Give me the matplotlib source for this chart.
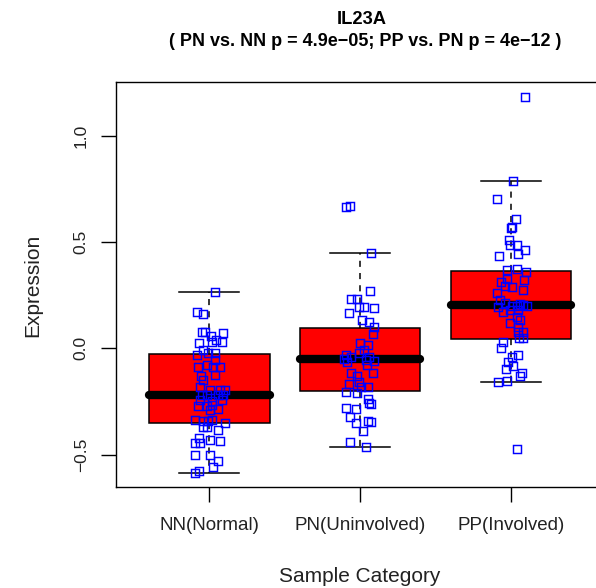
import numpy as np
import matplotlib
matplotlib.use("Agg")
import matplotlib.pyplot as plt

plt.rcParams['font.family'] = ['Liberation Sans', 'DejaVu Sans']

categories = ["NN(Normal)", "PN(Uninvolved)", "PP(Involved)"]
title_gene = "IL23A"
title_stats = "( PN vs. NN p = 4.9e\u221205; PP vs. PN p = 4e\u221212 )"

# box statistics
box_med = [-0.220, -0.052, 0.204]
box_q1 = [-0.350, -0.200, 0.042]
box_q3 = [-0.027, 0.094, 0.363]
box_lo = [-0.585, -0.462, -0.160]
box_hi = [0.266, 0.448, 0.787]

# sample values (expression) per group
nn_vals = [0.266, 0.172, 0.160, 0.078, 0.078, 0.058, 0.073, 0.039, 0.031, 0.024, 0.031,
           -0.010, -0.020, -0.020, -0.030, -0.055, -0.080, -0.090, -0.090, -0.090, -0.125,
           -0.130, -0.150, -0.180, -0.196, -0.196, -0.196, -0.220, -0.220, -0.220, -0.220,
           -0.245, -0.250, -0.245, -0.270, -0.270, -0.265, -0.285, -0.290, -0.335, -0.340,
           -0.340, -0.335, -0.350, -0.370, -0.370, -0.385, -0.420, -0.430, -0.435, -0.445,
           -0.445, -0.500, -0.500, -0.530, -0.560, -0.585, -0.575]
nn_jit = [0.038, -0.084, -0.040, -0.051, -0.029, 0.011, 0.093, 0.044, 0.082, -0.066, 0.015,
          -0.040, -0.007, 0.038, -0.084, 0.038, -0.018, 0.026, 0.071, -0.073, 0.038,
          -0.055, -0.040, -0.062, 0.004, 0.071, 0.104, -0.051, -0.018, 0.093, 0.060,
          -0.062, 0.015, 0.082, -0.073, -0.018, 0.015, 0.060, 0.004, -0.095, -0.040,
          -0.007, 0.015, 0.104, -0.040, -0.018, 0.055, -0.066, 0.004, 0.071, -0.095,
          -0.062, -0.095, 0.004, 0.060, 0.026, -0.095, -0.066]

pn_vals = [0.663, 0.670, 0.448, 0.271, 0.230, 0.230, 0.195, 0.193, 0.188, 0.165, 0.133,
           0.125, 0.100, 0.067, 0.024, 0.016, -0.008, -0.024, -0.030, -0.040, -0.050,
           -0.055, -0.060, -0.040, -0.065, -0.078, -0.118, -0.115, -0.130, -0.157, -0.170,
           -0.180, -0.180, -0.207, -0.210, -0.240, -0.260, -0.255, -0.280, -0.287, -0.325,
           -0.350, -0.340, -0.348, -0.387, -0.440, -0.462]
pn_jit = [-0.095, -0.066, 0.071, 0.064, -0.062, -0.018, -0.007, 0.026, 0.093, -0.073, 0.011,
          0.060, 0.093, 0.082, 0.000, 0.053, 0.026, -0.007, -0.095, -0.062, -0.106,
          0.038, 0.093, 0.060, -0.084, 0.044, -0.062, 0.082, -0.018, -0.007, -0.073,
          0.004, 0.053, -0.095, -0.018, 0.049, 0.071, 0.060, -0.095, -0.029, -0.066,
          -0.029, 0.049, 0.071, 0.020, -0.066, 0.042]

pp_vals = [1.180, 0.787, 0.700, 0.608, 0.572, 0.564, 0.509, 0.486, 0.462, 0.486, 0.434,
           0.443, 0.368, 0.371, 0.360, 0.324, 0.313, 0.320, 0.294, 0.287, 0.274, 0.261,
           0.227, 0.214, 0.196, 0.200, 0.210, 0.200, 0.198, 0.205, 0.171, 0.180, 0.180,
           0.149, 0.120, 0.133, 0.100, 0.078, 0.078, 0.047, 0.047, 0.028, 0.000, -0.030,
           -0.040, -0.063, -0.082, -0.096, -0.118, -0.129, -0.160, -0.154, -0.474]
pp_jit = [0.093, 0.011, -0.095, 0.031, 0.004, 0.000, -0.011, 0.038, 0.093, -0.007, -0.079,
          0.044, -0.029, 0.038, 0.099, -0.024, -0.064, 0.086, -0.040, 0.007, 0.082, -0.095,
          -0.073, -0.040, -0.084, 0.038, 0.060, 0.108, 0.004, 0.082, -0.051, -0.007, 0.049,
          0.038, -0.007, 0.060, 0.049, 0.044, 0.082, 0.053, 0.082, -0.051, -0.068, 0.044,
          0.004, -0.022, 0.015, -0.035, 0.071, 0.060, -0.088, -0.024, 0.038]

yticks = [-0.5, 0.0, 0.5, 1.0]
ytick_labels = ["\u22120.5", "0.0", "0.5", "1.0"]

W, H = 596, 588
fig = plt.figure(figsize=(W / 100, H / 100), dpi=100)
ax = fig.add_axes([115.8 / W, 101 / H, 488.7 / W, 405 / H])

stats = []
for i in range(3):
    stats.append(dict(med=box_med[i], q1=box_q1[i], q3=box_q3[i],
                      whislo=box_lo[i], whishi=box_hi[i], fliers=[]))

ax.bxp(stats, positions=[1, 2, 3], widths=0.8, patch_artist=True, showfliers=False,
       capwidths=0.4,
       boxprops=dict(facecolor='#FF0000', edgecolor='black', linewidth=1.1),
       medianprops=dict(color='black', linewidth=6.0, solid_capstyle='round'),
       whiskerprops=dict(color='black', linewidth=1.1, linestyle=(0, (4, 4))),
       capprops=dict(color='black', linewidth=1.1))

groups = [(nn_vals, nn_jit), (pn_vals, pn_jit), (pp_vals, pp_jit)]
for i, (vals, jit) in enumerate(groups):
    xs = (i + 1) + np.array(jit)
    ax.plot(xs, vals, linestyle='none', marker='s', markersize=5.3,
            markerfacecolor='none', markeredgecolor='#0000FF', markeredgewidth=1.05,
            zorder=5)

ax.set_xlim(0.38, 3.62)
ax.set_ylim(-0.652, 1.252)
ax.set_xticks([1, 2, 3])
ax.set_xticklabels(categories, fontsize=13.5)
ax.set_yticks(yticks)
ax.set_yticklabels(ytick_labels, fontsize=12.5, rotation=90, va='center')
ax.tick_params(axis='both', length=10.5, width=1.0, color='black', labelcolor='#222222')
ax.tick_params(axis='x', pad=11)
ax.tick_params(axis='y', pad=9)
for s in ax.spines.values():
    s.set_linewidth(1.0)
    s.set_color('black')

fig.text(362 / W, 1 - 19 / H, title_gene, ha='center', va='center',
         fontsize=13.2, fontweight='bold')
fig.text(365 / W, 1 - 42 / H, title_stats, ha='center', va='center',
         fontsize=13.0, fontweight='bold')
fig.text(360 / W, 1 - 576 / H, "Sample Category", ha='center', va='center',
         fontsize=15, color='#222222')
fig.text(33 / W, 1 - 285 / H, "Expression", ha='center', va='center',
         fontsize=15, rotation=90, color='#222222')

fig.savefig("out.png", dpi=100)
